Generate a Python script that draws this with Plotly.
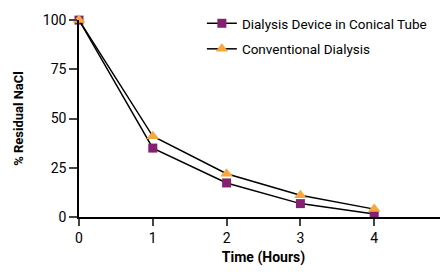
import plotly.graph_objects as go

time_hours = [0, 1, 2, 3, 4]
device_conical = [100, 35, 17.3, 6.8, 1.5]
conventional = [100, 41, 22, 11, 4]
series_names = ["Dialysis Device in Conical Tube", "Conventional Dialysis"]
x_ticks = [0, 1, 2, 3, 4, 5]
y_ticks = [0, 25, 50, 75, 100]

FONT = "Roboto, Liberation Sans, sans-serif"

fig = go.Figure()
fig.add_trace(go.Scatter(
    x=time_hours, y=device_conical, name=series_names[0], mode="lines+markers",
    legendgroup="a",
    line=dict(color="black", width=1.5),
    marker=dict(symbol="square", size=9, color="#84206f"),
    cliponaxis=False,
))
fig.add_trace(go.Scatter(
    x=time_hours, y=conventional, name=series_names[1], mode="lines+markers",
    legendgroup="b",
    line=dict(color="black", width=1.5),
    marker=dict(symbol="triangle-up", size=11, color="#f8a73c"),
    cliponaxis=False,
))

# page body has an 8px margin, so the figure is 8px smaller each way
fig.update_layout(
    width=440, height=267,
    margin=dict(l=71, r=0, t=0, b=58),
    paper_bgcolor="white", plot_bgcolor="white",
    font=dict(family=FONT, size=14, color="black"),
    showlegend=True,
    legend=dict(x=0.333, y=1, xanchor="left", yanchor="top",
                font=dict(family=FONT, size=13.5, color="black"),
                bgcolor="rgba(0,0,0,0)", tracegroupgap=5, itemwidth=30),
    xaxis=dict(range=[0, 5], tickvals=x_ticks, ticks="outside", ticklen=7, tickwidth=1.5,
               ticklabeloverflow="allow",
               showline=True, linecolor="black", linewidth=1.5, showgrid=False, zeroline=False,
               automargin=False,
               title=dict(text="<b>Time (Hours)</b>", font=dict(family=FONT, size=14), standoff=8),
               tickfont=dict(size=14)),
    yaxis=dict(range=[0, 100], tickvals=y_ticks, ticks="outside", ticklen=8, tickwidth=1.5,
               domain=[0, 0.942],
               showline=True, linecolor="black", linewidth=1.5, showgrid=False, zeroline=False,
               automargin=False,
               title=dict(text="<b>% Residual NaCl</b>", font=dict(family=FONT, size=13), standoff=16),
               tickfont=dict(size=14)),
)

fig.write_html("out.html")
